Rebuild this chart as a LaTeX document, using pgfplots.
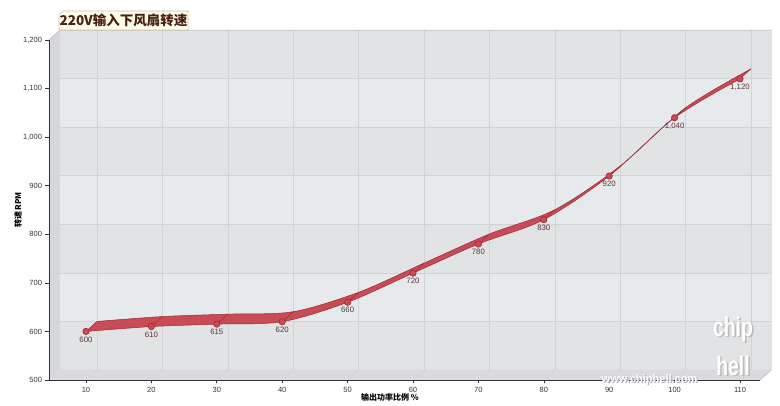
\documentclass[border=0pt]{standalone}
\usepackage{fontspec}
\setmainfont{Liberation Sans}
\newfontfamily\cjk{Noto Sans CJK SC}
\usepackage{pgfplots}
\usepackage{pgfplotstable}
\pgfplotsset{compat=1.18}
\usepgfplotslibrary{fillbetween}
\definecolor{bandA}{HTML}{E2E3E5}
\definecolor{bandB}{HTML}{E7EAED}
\definecolor{wallc}{HTML}{D5D7DA}
\definecolor{floorc}{HTML}{D9DBDE}
\definecolor{gridc}{HTML}{D0D2D5}
\definecolor{rib}{HTML}{C84B55}
\definecolor{ribd}{HTML}{9A2A32}
\definecolor{labc}{HTML}{5A3434}
\definecolor{axc}{HTML}{333333}
\pgfplotstableread{
x y
10 600
20 610
30 615
40 620
50 660
60 720
70 780
80 830
90 920
100 1040
110 1120
}\data
\newcommand{\XL}{4.343}
\newcommand{\XR}{113.058}
\begin{document}
\begin{tikzpicture}
\begin{axis}[
  set layers,
  scale only axis, width=711pt, height=340pt,
  at={(0,0)}, anchor=south west,
  xmin=\XL, xmax=\XR, ymin=500, ymax=1200,
  clip=false,
  axis x line*=bottom, axis y line*=left,
  axis line style={draw=axc, line width=0.9pt},
  xtick={10,20,...,110}, ytick={500,600,...,1200},
  tick align=outside, major tick length=3.5pt,
  tick style={draw=axc, line width=0.6pt},
  ticklabel style={font=\fontsize{7.5}{9}\selectfont, text=axc},
  /pgf/number format/.cd, 1000 sep={,}, assume math mode=true,
]
\begin{pgfonlayer}{axis background}
% back wall bands
\fill[bandA] ([xshift=11pt,yshift=10pt]axis cs:\XL,500) rectangle ([xshift=11pt,yshift=10pt]axis cs:\XR,600);
\fill[bandB] ([xshift=11pt,yshift=10pt]axis cs:\XL,600) rectangle ([xshift=11pt,yshift=10pt]axis cs:\XR,700);
\fill[bandA] ([xshift=11pt,yshift=10pt]axis cs:\XL,700) rectangle ([xshift=11pt,yshift=10pt]axis cs:\XR,800);
\fill[bandB] ([xshift=11pt,yshift=10pt]axis cs:\XL,800) rectangle ([xshift=11pt,yshift=10pt]axis cs:\XR,900);
\fill[bandA] ([xshift=11pt,yshift=10pt]axis cs:\XL,900) rectangle ([xshift=11pt,yshift=10pt]axis cs:\XR,1000);
\fill[bandB] ([xshift=11pt,yshift=10pt]axis cs:\XL,1000) rectangle ([xshift=11pt,yshift=10pt]axis cs:\XR,1100);
\fill[bandA] ([xshift=11pt,yshift=10pt]axis cs:\XL,1100) rectangle ([xshift=11pt,yshift=10pt]axis cs:\XR,1200);
% left wall and floor
\fill[wallc] (axis cs:\XL,500) -- (axis cs:\XL,1200) -- ([xshift=11pt,yshift=10pt]axis cs:\XL,1200) -- ([xshift=11pt,yshift=10pt]axis cs:\XL,500) -- cycle;
\fill[floorc] (axis cs:\XL,500) -- (axis cs:\XR,500) -- ([xshift=11pt,yshift=10pt]axis cs:\XR,500) -- ([xshift=11pt,yshift=10pt]axis cs:\XL,500) -- cycle;
% grid
\pgfplotsinvokeforeach{10,20,30,40,50,60,70,80,90,100,110}{
  \draw[gridc, line width=0.5pt] ([xshift=11pt,yshift=10pt]axis cs:#1,500) -- ([xshift=11pt,yshift=10pt]axis cs:#1,1200);
  \draw[gridc, line width=0.5pt] (axis cs:#1,500) -- ([xshift=11pt,yshift=10pt]axis cs:#1,500);
}
\pgfplotsinvokeforeach{600,700,800,900,1000,1100}{
  \draw[gridc, line width=0.5pt] ([xshift=11pt,yshift=10pt]axis cs:\XL,#1) -- ([xshift=11pt,yshift=10pt]axis cs:\XR,#1);
  \draw[gridc, line width=0.5pt] (axis cs:\XL,#1) -- ([xshift=11pt,yshift=10pt]axis cs:\XL,#1);
}
\draw[gridc!85!black, line width=0.5pt] ([xshift=11pt,yshift=10pt]axis cs:\XL,1200) -- ([xshift=11pt,yshift=10pt]axis cs:\XR,1200) -- ([xshift=11pt,yshift=10pt]axis cs:\XR,500) -- (axis cs:\XR,500);
\draw[gridc!85!black, line width=0.5pt] (axis cs:\XL,1200) -- ([xshift=11pt,yshift=10pt]axis cs:\XL,1200);
\end{pgfonlayer}
% ribbon
\addplot[name path=front, draw=none, smooth] table {\data};
\addplot[name path=back, draw=none, smooth] table[x expr=\thisrow{x}+1.682, y expr=\thisrow{y}+20.588] {\data};
\addplot[fill=rib, draw=none] fill between[of=front and back];
\addplot[draw=ribd, line width=0.5pt, smooth] table {\data};
\addplot[draw=ribd, line width=0.5pt, smooth] table[x expr=\thisrow{x}+1.682, y expr=\thisrow{y}+20.588] {\data};
\addplot[draw=ribd, line width=0.5pt, quiver={u=1.682, v=20.588}] table {\data};
\addplot[only marks, mark=*, mark size=3.2pt, mark options={fill=rib, draw=ribd, line width=0.6pt},
  nodes near coords, nodes near coords style={anchor=north, yshift=-1.5pt, font=\fontsize{7.8}{9}\selectfont, text=labc}] table {\data};
\end{axis}
% axis titles
\node[rotate=90, font=\cjk\bfseries\fontsize{8}{10}\selectfont, text=black] at (-31pt,170pt) {转速 RPM};
\node[font=\cjk\bfseries\fontsize{8}{10}\selectfont, text=black] at (341pt,-17pt) {输出功率比例 \%};
% title box
\filldraw[fill=yellow!8!white, draw=brown!55!white, line width=0.6pt] (10pt,350pt) -- (10pt,365pt) -- (14pt,369pt) -- (139pt,369pt) -- (139pt,350pt) -- cycle;
\node[font=\cjk\bfseries\fontsize{13.5}{15}\selectfont, text={rgb,255:red,75;green,30;blue,20}] at (74.5pt,359.5pt) {220V输入下风扇转速};
% watermark
\node[font=\bfseries\fontsize{11}{12}\selectfont, text=gray!60] at (601.5pt,-0.8pt) {www.chiphell.com};
\node[font=\bfseries\fontsize{11}{12}\selectfont, text=white] at (600.5pt,0.3pt) {www.chiphell.com};
\node[font=\bfseries\fontsize{27}{27}\selectfont, text=gray!55, xscale=0.72] at (685.5pt,49pt) {chip};
\node[font=\bfseries\fontsize{27}{27}\selectfont, text=white, xscale=0.72] at (684pt,50.5pt) {chip};
\node[font=\bfseries\fontsize{27}{27}\selectfont, text=gray!55, xscale=0.72] at (685.5pt,13pt) {hell};
\node[font=\bfseries\fontsize{27}{27}\selectfont, text=white, xscale=0.72] at (684pt,14.5pt) {hell};
\pgfresetboundingbox
\path[use as bounding box] (-49pt,-26pt) rectangle (731pt,380pt);
\end{tikzpicture}
\end{document}
